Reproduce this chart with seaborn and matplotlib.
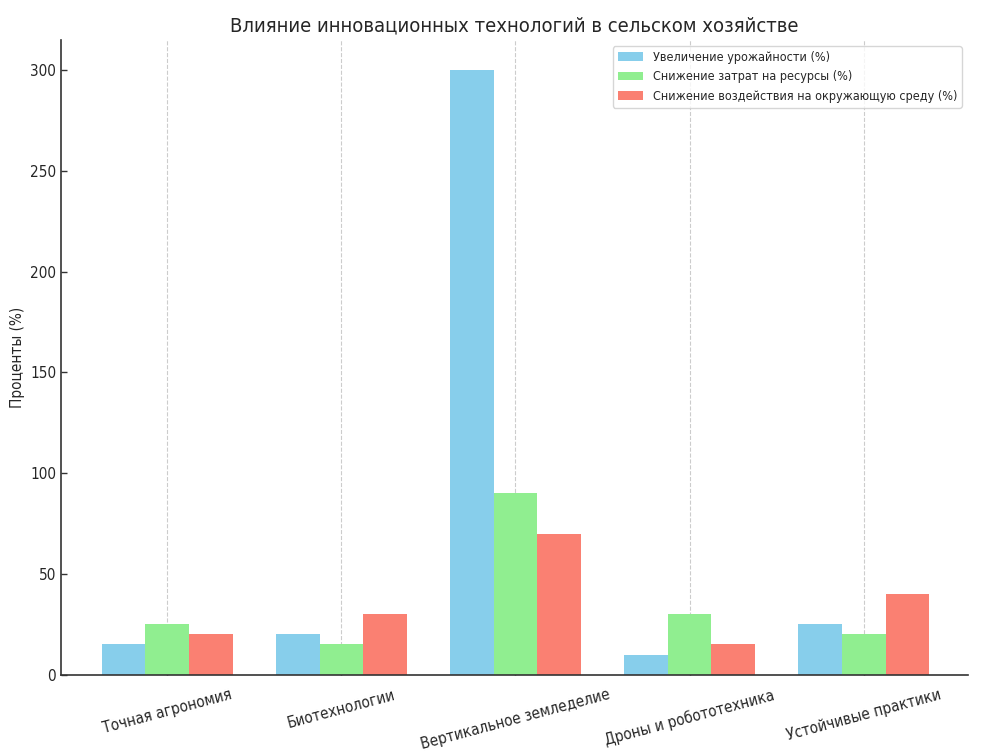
import matplotlib
matplotlib.use("Agg")
import matplotlib.pyplot as plt
from matplotlib import font_manager
import seaborn as sns
import pandas as pd

categories = ["Точная агрономия", "Биотехнологии", "Вертикальное земледелие",
              "Дроны и робототехника", "Устойчивые практики"]
series = ["Увеличение урожайности (%)", "Снижение затрат на ресурсы (%)",
          "Снижение воздействия на окружающую среду (%)"]
yield_increase = [15, 20, 300, 10, 25]
cost_reduction = [25, 15, 90, 30, 20]
env_reduction = [20, 30, 70, 15, 40]
colors = ["skyblue", "lightgreen", "salmon"]

rows = []
for s, vals in zip(series, [yield_increase, cost_reduction, env_reduction]):
    for c, v in zip(categories, vals):
        rows.append({"Технология": c, "Показатель": s, "Значение": v})
df = pd.DataFrame(rows)

sns.set_theme(style="white")
plt.rcParams['font.family'] = ['DejaVu Sans']
has_cond = any(("Condensed" in f.fname) for f in font_manager.fontManager.ttflist
               if "DejaVu" in f.fname)
plt.rcParams['font.stretch'] = 'condensed' if has_cond else 'normal'
scale = 1.0 if has_cond else 0.9

fig = plt.figure(figsize=(9.91, 7.53), dpi=100)
ax = fig.add_axes([0.0616, 0.104, 0.9154, 0.843])
sns.barplot(data=df, x="Технология", y="Значение", hue="Показатель",
            palette=colors, width=0.75, saturation=1, ax=ax, errorbar=None,
            linewidth=0, edgecolor="none")

ax.set_xlim(-0.61, 4.6)
ax.set_ylim(0, 315)
ax.set_title("Влияние инновационных технологий в сельском хозяйстве",
             fontsize=14.5 * scale, pad=6)
ax.set_ylabel("Проценты (%)", fontsize=11 * scale)
ax.set_xlabel("")
ax.set_xticks(range(len(categories)))
ax.set_xticklabels(categories, rotation=15, ha="center", fontsize=11 * scale)
ax.tick_params(axis="y", labelsize=11 * scale)
ax.tick_params(direction="in", length=4, width=1, color="#333333", left=True, bottom=True)
ax.tick_params(axis="x", pad=9)
ax.xaxis.grid(True, linestyle="--", color="#cccccc", linewidth=0.8)
ax.yaxis.grid(False)
ax.set_axisbelow(True)
for sp in ["top", "right"]:
    ax.spines[sp].set_visible(False)
for sp in ["left", "bottom"]:
    ax.spines[sp].set_color("#333333")
    ax.spines[sp].set_linewidth(1.2)
ax.legend(loc="upper right", fontsize=9 * scale, frameon=True, title=None)

fig.savefig("out.png", dpi=100)
